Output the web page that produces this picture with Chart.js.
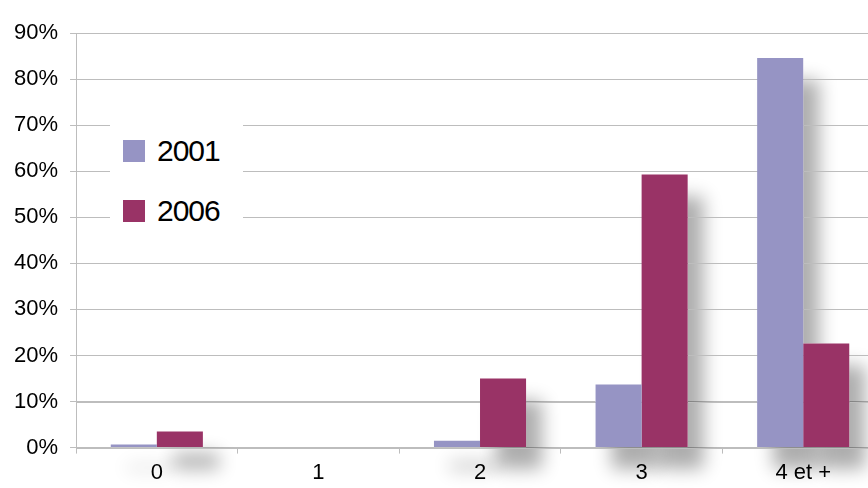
<!DOCTYPE html>
<html>
<head>
<meta charset="utf-8">
<script src="https://cdn.jsdelivr.net/npm/chart.js@4"></script>
<style>
  html, body { margin: 0; padding: 0; background: #fff; overflow: hidden; }
  #wrap { position: relative; width: 868px; height: 488px; overflow: hidden; }
  #legend {
    position: absolute; left: 110px; top: 96px; width: 133px; height: 148px;
    background: #fff; font-family: "Liberation Sans", sans-serif; font-size: 30px;
    color: #000; letter-spacing: -1px;
  }
  #legend .row { position: absolute; left: 13px; height: 30px; line-height: 30px; }
  #legend .box { position: absolute; left: 0; top: 4px; width: 22px; height: 22px; }
  #legend .txt { position: absolute; left: 34px; top: 0; white-space: nowrap; }
</style>
</head>
<body>
<div id="wrap">
  <canvas id="myChart" width="890" height="494"></canvas>
  <div id="legend"></div>
</div>
<script>
// categories (nombre d'enfants) et valeurs
const categories = ['0', '1', '2', '3', '4 et +']
const series2001 = [0.7, 0, 1.5, 13.7, 84.6]
const series2006 = [3.5, 0, 15.0, 59.3, 22.6]
const yTicks = ['0%', '10%', '20%', '30%', '40%', '50%', '60%', '70%', '80%', '90%']

const color2001 = '#9694c4'
const color2006 = '#993366'
const gridColor = '#bdbdbd'
const fontFamily = '"Liberation Sans", sans-serif'

// ombre floue derrière les barres, dessinée avant la grille
const barShadow = {
  id: 'barShadow',
  beforeDatasetsDraw(chart) {
    const ctx = chart.ctx
    ctx.save()
    ctx.beginPath()
    ctx.rect(chart.chartArea.left, 0, chart.width, chart.height)
    ctx.clip()
    ctx.shadowColor = 'rgba(0,0,0,0.32)'
    ctx.shadowBlur = 18
    ctx.shadowOffsetX = 16
    ctx.shadowOffsetY = 22
    ctx.fillStyle = '#ffffff'
    chart.data.datasets.forEach(function(ds, i) {
      chart.getDatasetMeta(i).data.forEach(function(bar) {
        if (bar.base - bar.y < 1) return
        ctx.fillRect(bar.x - bar.width / 2, bar.y, bar.width, bar.base - bar.y)
      })
    })
    ctx.restore()
    // on redessine la grille par-dessus l'ombre
    const y = chart.scales.y
    ctx.save()
    ctx.strokeStyle = gridColor
    ctx.lineWidth = 1
    y.ticks.forEach(function(t) {
      const py = Math.round(y.getPixelForValue(t.value)) + 0.5
      ctx.beginPath()
      ctx.moveTo(chart.chartArea.left, py)
      ctx.lineTo(chart.chartArea.right, py)
      ctx.stroke()
    })
    ctx.restore()
  }
}

var ctx = document.getElementById('myChart')

var lineChart = new Chart(ctx, {
  type: 'bar',
  data: {
    labels: categories,
    datasets: [
      { label: '2001', data: series2001, backgroundColor: color2001, barPercentage: 1, categoryPercentage: 0.57 },
      { label: '2006', data: series2006, backgroundColor: color2006, barPercentage: 1, categoryPercentage: 0.57 }
    ]
  },
  options: {
    responsive: false,
    animation: false,
    layout: { padding: { left: 2, top: 33, right: 6, bottom: 2 } },
    plugins: {
      legend: { display: false },
      tooltip: { enabled: false },
      title: { display: false }
    },
    scales: {
      x: {
        offset: true,
        grid: { offset: true, drawOnChartArea: false, color: gridColor, tickLength: 6 },
        border: { color: gridColor },
        ticks: { color: '#000', padding: 6, font: { family: fontFamily, size: 22 }, maxRotation: 0 }
      },
      y: {
        min: 0, max: 90,
        grid: { color: gridColor, tickLength: 6 },
        border: { color: gridColor },
        ticks: {
          stepSize: 10, color: '#000', padding: 12,
          font: { family: fontFamily, size: 22 },
          callback: function(v) { return yTicks[Math.round(v / 10)] }
        }
      }
    }
  },
  plugins: [barShadow]
})

// légende HTML placée dans la zone du graphique
var legend = document.getElementById('legend')
lineChart.data.datasets.forEach(function(ds, i) {
  var row = document.createElement('div')
  row.className = 'row'
  row.style.top = (40 + i * 60) + 'px'
  row.innerHTML = '<span class="box" style="background:' + ds.backgroundColor + '"></span><span class="txt">' + ds.label + '</span>'
  legend.appendChild(row)
})
</script>
</body>
</html>
